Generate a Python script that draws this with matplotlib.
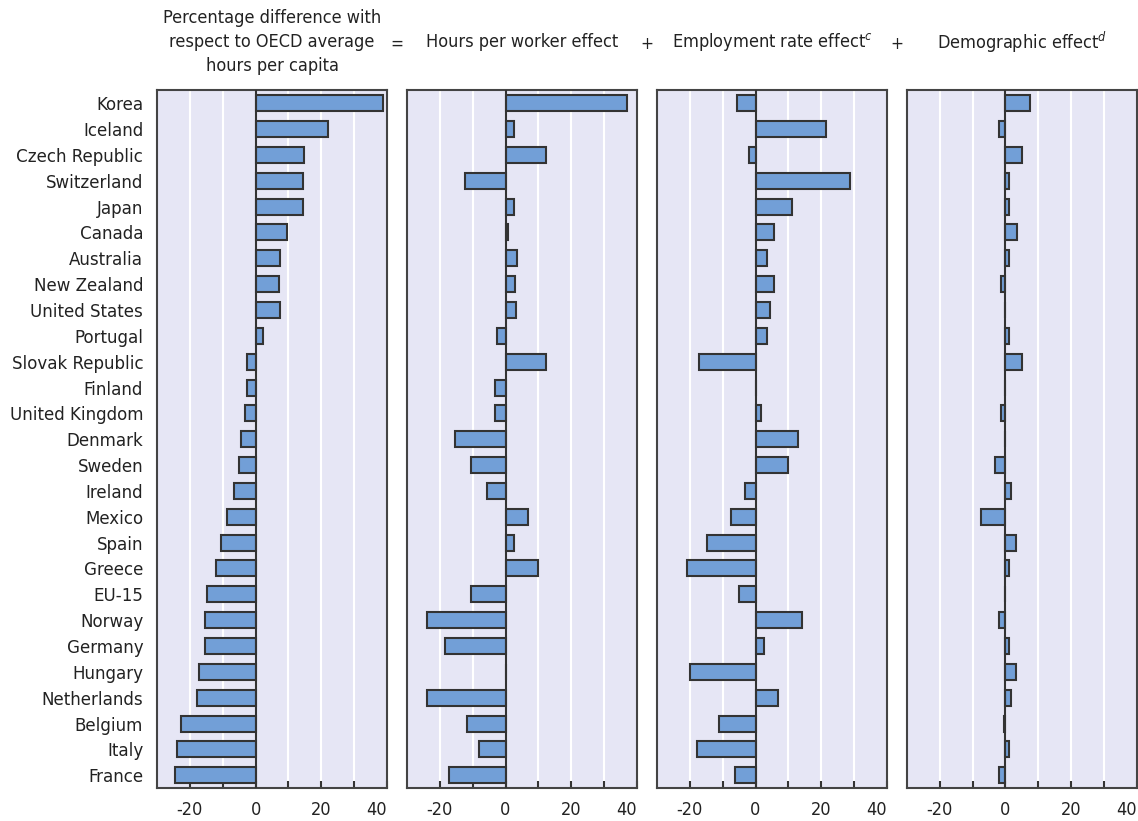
import numpy as np
import matplotlib
matplotlib.use('Agg')
import matplotlib.pyplot as plt

plt.rcParams['font.family'] = ['DejaVu Sans']
plt.rcParams['font.stretch'] = 'condensed'
plt.rcParams['mathtext.fontset'] = 'custom'
plt.rcParams['mathtext.it'] = 'DejaVu Sans:italic'
plt.rcParams['mathtext.rm'] = 'DejaVu Sans'

countries = ['Korea', 'Iceland', 'Czech Republic', 'Switzerland', 'Japan', 'Canada',
             'Australia', 'New Zealand', 'United States', 'Portugal', 'Slovak Republic',
             'Finland', 'United Kingdom', 'Denmark', 'Sweden', 'Ireland', 'Mexico',
             'Spain', 'Greece', 'EU-15', 'Norway', 'Germany', 'Hungary', 'Netherlands',
             'Belgium', 'Italy', 'France']

total_diff = [38.7, 22.1, 14.8, 14.3, 14.3, 9.7, 7.4, 7.2, 7.3, 2.4, -2.6,
              -2.6, -3.2, -4.3, -4.9, -6.7, -8.6, -10.4, -12.1, -14.7, -15.3,
              -15.3, -17.1, -17.8, -22.7, -23.8, -24.5]
hours_worker = [36.9, 2.5, 12.3, -12.3, 2.5, 0.7, 3.6, 3.0, 3.1, -2.6, 12.3,
                -3.2, -3.2, -15.3, -10.6, -5.6, 6.9, 2.5, 9.8, -10.6, -24.0,
                -18.5, 0.0, -24.0, -11.8, -8.1, -17.3]
employment = [-5.6, 21.5, -2.0, 28.9, 11.2, 5.5, 3.6, 5.5, 4.3, 3.6, -17.3,
              0.0, 1.8, 13.0, 9.8, -3.2, -7.5, -14.8, -20.9, -4.9, 14.3,
              2.5, -19.8, 6.9, -11.1, -17.9, -6.3]
demographic = [7.4, -2.0, 4.9, 1.2, 1.2, 3.6, 1.2, -1.3, 0.0, 1.2, 4.9,
               0.0, -1.3, 0.0, -3.2, 1.8, -7.5, 3.1, 1.2, 0.0, -2.0,
               1.2, 3.1, 1.8, -0.5, 1.2, -2.0]

titles = ['Percentage difference with\nrespect to OECD average\nhours per capita',
          'Hours per worker effect',
          'Employment rate effect$^{c}$',
          'Demographic effect$^{d}$']
operators = ['=', '+', '+']
series = [total_diff, hours_worker, employment, demographic]

bar_color = '#729fd7'
edge_color = '#333333'
bg_color = '#e6e6f5'
text_color = '#222222'

fig, axes = plt.subplots(1, 4, figsize=(11.38, 8.21), dpi=100, sharey=True)
plt.subplots_adjust(left=0.138, right=0.999, top=0.890, bottom=0.040, wspace=0.087)

title_y = 1 - 42 / 821
y = np.arange(len(countries))
for i, ax in enumerate(axes):
    ax.set_facecolor(bg_color)
    for g in range(-20, 41, 10):
        ax.axvline(g, color='white', lw=1.5, zorder=1)
    ax.barh(y, series[i], height=0.62, color=bar_color, edgecolor=edge_color,
            linewidth=1.5, zorder=3)
    ax.axvline(0, color='#333333', lw=1.5, zorder=4)
    ax.set_xlim(-30, 40)
    ax.set_ylim(len(countries) - 0.5, -0.5)
    ax.set_xticks(range(-20, 41, 10))
    ax.set_xticklabels(['-20', '', '0', '', '20', '', '40'])
    ax.tick_params(axis='x', direction='in', length=5, width=1.5, color='#333333',
                   labelsize=13, labelcolor=text_color, pad=9)
    ax.tick_params(axis='y', length=0, labelsize=13.3, labelcolor=text_color, pad=10)
    ax.get_xticklabels()[-1].set_horizontalalignment('right')
    for s in ax.spines.values():
        s.set_color('#444444')
        s.set_linewidth(1.5)
    pos = ax.get_position()
    fig.text((pos.x0 + pos.x1) / 2, title_y, titles[i], ha='center', va='center',
             fontsize=13, color=text_color, linespacing=1.42)

axes[0].set_yticks(y)
axes[0].set_yticklabels(countries)

# operators between the panel titles
for i, op in enumerate(operators):
    x0 = axes[i].get_position().x1
    x1 = axes[i + 1].get_position().x0
    fig.text((x0 + x1) / 2, 1 - 44 / 821, op, ha='center', va='center',
             fontsize=12.5, color=text_color)

plt.savefig('out.png', dpi=100)
plt.close()
